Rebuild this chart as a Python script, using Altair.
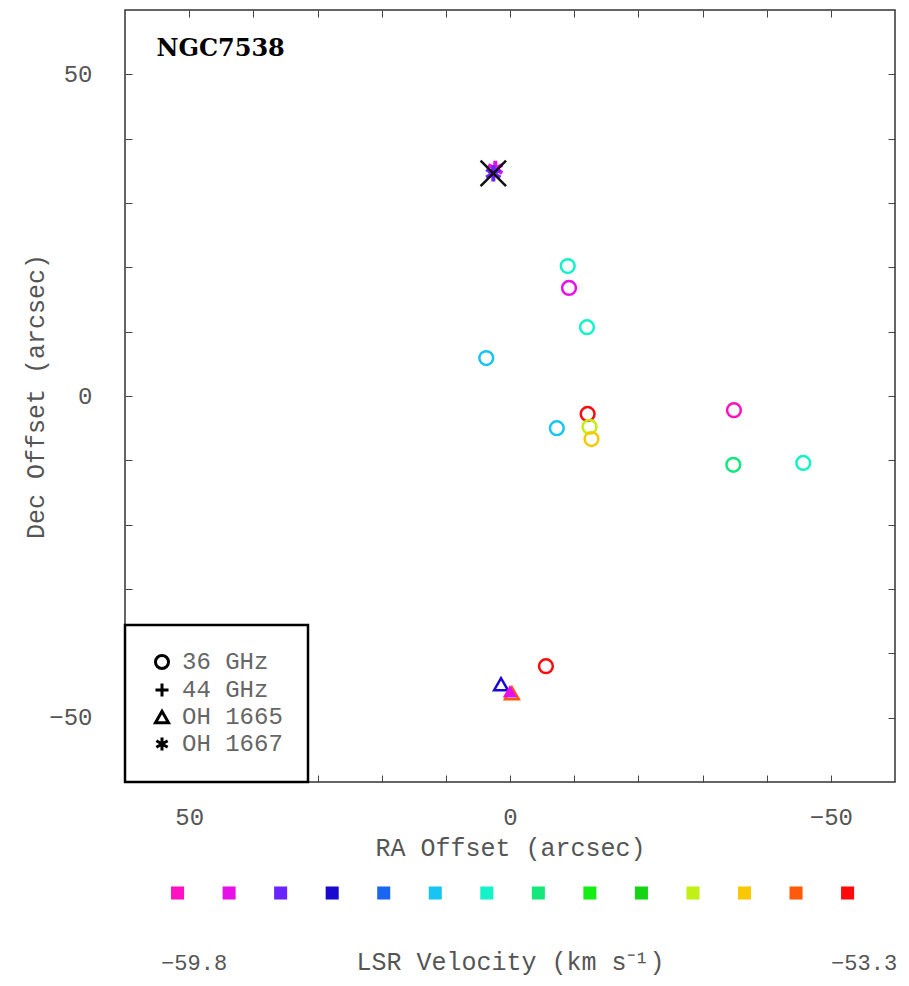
import altair as alt
import pandas as pd

# ---------------- data ----------------
vel_bins = [-59.8, -59.3, -58.8, -58.3, -57.8, -57.3, -56.8,
            -56.3, -55.8, -55.3, -54.8, -54.3, -53.8, -53.3]
vel_colors = ["#ff10c0", "#e810e8", "#6a24ff", "#1808d0", "#1a66f2",
              "#18c4f2", "#14f2c8", "#14e87a", "#14ee14", "#14d414",
              "#c0f014", "#f8c800", "#ff5a0a", "#ff0a0a"]

line_types = ["36 GHz", "44 GHz", "OH 1665", "OH 1667"]

# 36 GHz masers (circles)
c36_ra = [-9.0, -9.2, -12.0, 3.7, -12.1, -12.4, -12.7, -7.3, -34.9, -34.8, -45.7, -5.6]
c36_dec = [20.2, 16.8, 10.7, 5.9, -2.8, -4.8, -6.7, -5.0, -2.2, -10.7, -10.4, -42.0]
c36_vel = [-56.8, -59.3, -56.8, -57.3, -53.3, -54.8, -54.3, -57.3, -59.8, -56.3, -56.8, -53.3]

# OH 1665 (triangles)
oh65_ra = [1.4, -0.3]
oh65_dec = [-44.8, -46.2]
oh65_vel = [-58.3, -53.8]
oh65f_ra = [0.0]
oh65f_dec = [-45.9]
oh65f_vel = [-59.3]

# OH 1667 (asterisks)
oh67_ra = [2.3, 2.6]
oh67_dec = [35.3, 34.6]
oh67_vel = [-59.3, -58.8]

# reference cross
ref_ra = [2.6]
ref_dec = [34.6]

tick_vals = [-50, -40, -30, -20, -10, 0, 10, 20, 30, 40, 50]

PLUS = "M-1,0L1,0M0,-1L0,1"
ASTER = "M0,-1L0,1M-0.87,-0.5L0.87,0.5M-0.87,0.5L0.87,-0.5"
XMARK = "M-1,-1L1,1M-1,1L1,-1"

df = pd.DataFrame({
    "ra": c36_ra + oh65_ra,
    "dec": c36_dec + oh65_dec,
    "vel": c36_vel + oh65_vel,
    "line": ["36 GHz"] * len(c36_ra) + ["OH 1665"] * len(oh65_ra),
})
dstar = pd.DataFrame({"ra": oh67_ra, "dec": oh67_dec, "vel": oh67_vel})
dff = pd.DataFrame({"ra": oh65f_ra, "dec": oh65f_dec, "vel": oh65f_vel})
dref = pd.DataFrame({"ra": ref_ra, "dec": ref_dec})
dtitle = pd.DataFrame({"ra": [55.1], "dec": [54.0], "t": ["NGC7538"]})
bar_df = pd.DataFrame({"vel": vel_bins})

FONT = "Liberation Mono"
TXT = "#555555"

xs = alt.Scale(domain=[60, -60], nice=False, zero=False)
ys = alt.Scale(domain=[-60, 60], nice=False, zero=False)
color_scale = alt.Scale(domain=vel_bins, range=vel_colors)
shape_scale = alt.Scale(domain=line_types, range=["circle", PLUS, "triangle-up", ASTER])

lab50 = "datum.value % 50 == 0 ? datum.label : ''"

pts = alt.Chart(df).mark_point(filled=False, size=190, strokeWidth=2.5, opacity=1).encode(
    x=alt.X("ra:Q", scale=xs, axis=alt.Axis(
        orient="bottom", values=tick_vals, labelExpr=lab50, offset=-7, tickSize=7,
        tickColor="#444", tickWidth=1, domain=False, grid=False,
        labelPadding=23, labelFont=FONT, labelFontSize=24, labelColor=TXT,
        title="RA Offset (arcsec)", titleFont=FONT, titleFontSize=25, titleColor=TXT,
        titleFontWeight="normal", titleY=72, titleBaseline="middle")),
    y=alt.Y("dec:Q", scale=ys, axis=alt.Axis(
        orient="left", values=tick_vals, labelExpr=lab50, offset=-7, tickSize=7,
        tickColor="#444", tickWidth=1, domain=False, grid=False,
        labelPadding=33, labelFont=FONT, labelFontSize=24, labelColor=TXT,
        title="Dec Offset (arcsec)", titleFont=FONT, titleFontSize=25, titleColor=TXT,
        titleFontWeight="normal", titleX=-97, titleY=386, titleBaseline="middle")),
    shape=alt.Shape("line:N", scale=shape_scale, legend=alt.Legend(
        title=None, orient="bottom-left", offset=0, padding=25, fillColor="white",
        strokeColor="black", symbolStrokeColor="black", symbolStrokeWidth=3,
        symbolSize=170, labelFont=FONT, labelFontSize=24, labelColor="#666",
        rowPadding=2, labelOffset=8)),
    color=alt.Color("vel:O", scale=color_scale, legend=None),
)

frame_axes = alt.Chart(df).mark_point(opacity=0).encode(
    x=alt.X("ra:Q", scale=xs, axis=alt.Axis(
        orient="top", values=tick_vals, labels=False, offset=-7, tickSize=7,
        tickColor="#444", tickWidth=1, domain=False, grid=False, title=None)),
    y=alt.Y("dec:Q", scale=ys, axis=alt.Axis(
        orient="right", values=tick_vals, labels=False, offset=-7, tickSize=7,
        tickColor="#444", tickWidth=1, domain=False, grid=False, title=None)),
)

stars = alt.Chart(dstar).mark_point(filled=False, size=260, shape=ASTER, strokeWidth=4,
                                    opacity=1).encode(
    x=alt.X("ra:Q", scale=xs, axis=None),
    y=alt.Y("dec:Q", scale=ys, axis=None),
    color=alt.Color("vel:O", scale=color_scale, legend=None),
)

filled_tri = alt.Chart(dff).mark_point(filled=True, size=210, shape="triangle-up", opacity=1).encode(
    x=alt.X("ra:Q", scale=xs, axis=None),
    y=alt.Y("dec:Q", scale=ys, axis=None),
    color=alt.Color("vel:O", scale=color_scale, legend=None),
)

ref_x = alt.Chart(dref).mark_point(filled=False, size=650, shape=XMARK, strokeWidth=2.5,
                                   color="#111111", opacity=1).encode(
    x=alt.X("ra:Q", scale=xs, axis=None),
    y=alt.Y("dec:Q", scale=ys, axis=None),
)

title_txt = alt.Chart(dtitle).mark_text(align="left", baseline="middle", font="DejaVu Serif",
                                       fontWeight="bold", fontSize=24, color="black").encode(
    x=alt.X("ra:Q", scale=xs, axis=None),
    y=alt.Y("dec:Q", scale=ys, axis=None),
    text="t:N",
)

main = alt.layer(pts, frame_axes, stars, filled_tri, ref_x, title_txt).properties(
    width=770, height=772,
    view=alt.ViewBackground(stroke="#333333", strokeWidth=1.5),
)

bar = alt.Chart(bar_df).mark_square(size=170, opacity=1).encode(
    x=alt.X("vel:Q", scale=alt.Scale(domain=[-60.31, -52.84], nice=False, zero=False),
            axis=alt.Axis(values=[-59.8, -53.3], format=".1f", domain=False, ticks=False,
                          tickSize=0, grid=False, labelPadding=59, labelBaseline="middle",
                          labelOffset=16, labelFont=FONT, labelFontSize=22, labelColor=TXT,
                          title="LSR Velocity (km s⁻¹)", titleFont=FONT, titleFontSize=25,
                          titleColor=TXT, titleFontWeight="normal", titleY=58,
                          titleBaseline="middle")),
    color=alt.Color("vel:O", scale=color_scale, legend=None),
).properties(width=770, height=20, view=alt.ViewBackground(stroke="transparent"))

chart = alt.vconcat(main, bar, spacing=21).resolve_legend(
    shape="independent", color="independent"
).properties(
    padding={"left": 14, "top": 0, "right": 0, "bottom": 5},
    background="white",
).configure_legend(strokeWidth=2.5)

chart.save("out.html", embed_options={"renderer": "svg", "actions": False})
